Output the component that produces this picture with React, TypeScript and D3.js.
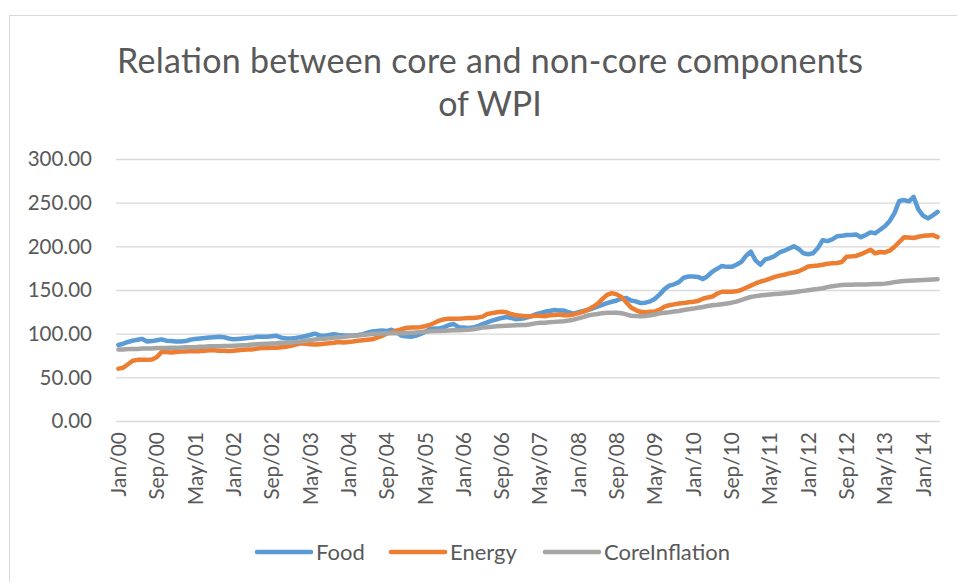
import { useEffect, useRef } from "react";
import * as d3 from "d3";

const MONTHS = ["Jan", "Feb", "Mar", "Apr", "May", "Jun", "Jul", "Aug", "Sep", "Oct", "Nov", "Dec"];
const START_YEAR = 2000;

// monthly index values, Jan/00 .. Apr/14
const FOOD = [
  87, 88.5, 90.5, 92, 93, 94, 91, 91.5, 92.5, 93.5, 92, 91.5,
  91, 91, 91.5, 93, 94, 94.5, 95, 95.5, 96, 96.5, 96, 94.5,
  93.5, 94, 94.5, 95, 95.5, 96.5, 96.5, 96.5, 97, 97.5, 95.5, 94.5,
  94.5, 95, 96, 97, 98.5, 100, 98, 97.5, 98.5, 99.5, 98.5, 98,
  98, 98, 98.5, 99.5, 101, 102.5, 103, 103.5, 103, 104.5, 102, 98,
  97, 96.5, 97.5, 99.5, 102, 105, 106, 106, 107.5, 110, 111, 107.5,
  107, 106.5, 107, 108.5, 111, 113, 115, 116.5, 118, 119, 118, 116.5,
  117, 118, 119.5, 122, 123.5, 125, 126, 127, 126.5, 126.5, 124.5, 123,
  124.5, 126, 127, 129, 131, 133, 135, 136.5, 138, 140, 141, 138,
  137, 135, 135.5, 137, 140, 145, 151, 155, 156.5, 159, 164, 165.5,
  165.5, 165, 162.5, 166, 171, 174.5, 177.5, 176.5, 176.5, 179, 182, 189,
  194, 184, 179, 185, 186.5, 189, 193, 195, 197.5, 200, 197, 192,
  191, 192, 198, 207, 206, 208, 211.5, 212, 213, 213, 213.5, 210.5,
  213, 216, 215, 219, 223, 229, 238, 252, 253, 251.5, 256.5, 242,
  235, 232, 235.5, 239.5,
];

const ENERGY = [
  60, 61, 65, 69, 70, 70, 70, 70.5, 73, 79, 79, 78.5,
  79, 79.5, 79.5, 80, 80, 80, 80.5, 81, 81, 80.5, 80.5, 80,
  80.5, 81, 81.5, 82, 82, 83, 83.5, 83.5, 84, 84, 84.5, 85,
  86, 87.5, 89, 88.5, 88, 87.5, 88, 88.5, 89, 89.5, 90.5, 90,
  90.5, 91, 92, 92.5, 93, 93.5, 95.5, 97.5, 100, 101.5, 103.5, 105,
  106.5, 107, 107, 107.5, 108.5, 110, 112.5, 115, 116.5, 117, 117, 117,
  117.5, 118, 118, 118.5, 119.5, 122.5, 123.5, 124.5, 125, 124.5, 122.5, 121,
  120.5, 120, 120, 120.5, 120.5, 120, 121, 121.5, 122, 121, 121, 122,
  123.5, 125, 127.5, 130.5, 134, 139.5, 144.5, 146.5, 145, 142, 136, 130,
  127, 125, 124.5, 125, 125.5, 127.5, 131, 132.5, 133.5, 134.5, 135, 136,
  136.5, 137.5, 140, 141.5, 142.5, 146, 148, 148, 148, 148.5, 150, 152.5,
  155, 157.5, 159.5, 161, 163, 165, 166.5, 167.5, 169, 170, 171.5, 174,
  177, 177.5, 178, 179, 180, 180.5, 181, 182, 188, 188.5, 189, 191,
  193.5, 196, 192, 193.5, 193, 195, 199.5, 205, 210.5, 210, 209.5, 211,
  212, 212.5, 213, 210.5,
];

const CORE = [
  82, 82, 82.5, 82.5, 82.5, 83, 83, 83, 83.5, 83.5, 83.5, 84,
  84, 84, 84.5, 84.5, 84.5, 85, 85, 85.5, 85.5, 85.5, 86, 86,
  86.3, 86.5, 86.8, 87, 87.5, 88, 88.3, 88.5, 88.8, 89, 89.5, 89.7,
  90, 90.5, 91, 91.8, 92.5, 93.3, 93.8, 94.3, 94.8, 95.2, 95.8, 96.3,
  97, 97.5, 98, 98.5, 99, 99.5, 100, 100.3, 100.5, 100.5, 100.5, 100.5,
  100.7, 101, 101.3, 101.8, 102.3, 102.8, 103, 103, 103.3, 103.5, 103.8, 104,
  104.2, 104.5, 105, 106, 107, 107.3, 107.8, 108.5, 108.8, 109, 109.3, 109.5,
  109.8, 110, 110.8, 111.8, 112.5, 112.6, 113, 113.5, 113.8, 114.3, 115, 116,
  117.5, 119, 120.8, 121.8, 122.5, 123.5, 124, 124, 124, 123.5, 122, 120.5,
  120.3, 120, 120.3, 121, 122, 123.3, 124, 124.5, 125.3, 126, 127, 128,
  128.7, 129.6, 130.5, 131.6, 132.5, 133, 133.7, 134.5, 135.5, 136.7, 138.5, 140.5,
  142, 143, 143.8, 144.3, 144.8, 145.3, 145.8, 146.3, 146.8, 147.5, 148.3, 149,
  149.7, 150.5, 151.2, 152, 153.3, 154.2, 155, 155.6, 155.9, 156, 156.2, 156.3,
  156.4, 156.6, 156.8, 157, 157.3, 158, 159, 159.7, 160.2, 160.6, 161, 161.3,
  161.5, 161.8, 162, 162.3,
];

const Y_TICKS = [0, 50, 100, 150, 200, 250, 300];
const LABEL_EVERY = 8;

const CATEGORIES = FOOD.map((_, i) => {
  const yy = String((START_YEAR + Math.floor(i / 12)) % 100).padStart(2, "0");
  return `${MONTHS[i % 12]}/${yy}`;
});

const SERIES = [
  { name: "Food", values: FOOD, color: "#5b9bd5" },
  { name: "Energy", values: ENERGY, color: "#ed7d31" },
  { name: "CoreInflation", values: CORE, color: "#a5a5a5" },
];

const FONT = "Lato, 'Open Sans', sans-serif";
const TEXT = "#595959";

export default function App() {
  const svgRef = useRef<SVGSVGElement | null>(null);

  useEffect(() => {
    const svgElement = svgRef.current;
    if (!svgElement) return;
    const width = 957;
    const height = 582;
    const plot = { left: 116, right: 940, top: 159, bottom: 421 };

    const x = d3.scalePoint<string>().domain(CATEGORIES).range([plot.left, plot.right]).padding(0.5);
    const y = d3.scaleLinear().domain([0, 300]).range([plot.bottom, plot.top]);

    const svg = d3.select(svgElement);
    svg.selectAll("*").remove();
    svg.attr("viewBox", `0 0 ${width} ${height}`);

    svg.append("rect").attr("width", width).attr("height", height).attr("fill", "#fff");
    svg
      .append("rect")
      .attr("x", 9.5)
      .attr("y", 15.5)
      .attr("width", width + 20)
      .attr("height", height + 20)
      .attr("fill", "none")
      .attr("stroke", "#d9d9d9");

    const title = svg
      .append("text")
      .attr("text-anchor", "middle")
      .attr("font-family", FONT)
      .attr("font-size", 34)
      .attr("fill", TEXT);
    title
      .append("tspan")
      .attr("x", 490)
      .attr("y", 73)
      .attr("textLength", 746)
      .text("Relation between core and non-core components");
    title.append("tspan").attr("x", 490).attr("y", 116).text("of WPI");

    // gridlines
    svg
      .append("g")
      .selectAll("line")
      .data(Y_TICKS)
      .join("line")
      .attr("x1", plot.left)
      .attr("x2", plot.right)
      .attr("y1", (d) => y(d) + 0.5)
      .attr("y2", (d) => y(d) + 0.5)
      .attr("stroke", "#d9d9d9")
      .attr("stroke-width", 1.3);

    svg
      .append("g")
      .selectAll("text")
      .data(Y_TICKS)
      .join("text")
      .attr("x", 92)
      .attr("y", (d) => y(d))
      .attr("dy", "0.35em")
      .attr("text-anchor", "end")
      .attr("font-family", FONT)
      .attr("font-size", 20.5)
      .attr("fill", TEXT)
      .text((d) => d.toFixed(2));

    svg
      .append("g")
      .selectAll("text")
      .data(CATEGORIES.filter((_, i) => i % LABEL_EVERY === 0))
      .join("text")
      .attr("transform", (d) => `translate(${(x(d) ?? 0) + 7.5}, 432) rotate(-90)`)
      .attr("text-anchor", "end")
      .attr("font-family", FONT)
      .attr("font-size", 21)
      .attr("fill", TEXT)
      .text((d) => d);

    const line = d3
      .line<number>()
      .x((_, i) => x(CATEGORIES[i]) ?? 0)
      .y((d) => y(d));

    svg
      .append("g")
      .selectAll("path")
      .data(SERIES)
      .join("path")
      .attr("d", (s) => line(s.values))
      .attr("fill", "none")
      .attr("stroke", (s) => s.color)
      .attr("stroke-width", 4.5)
      .attr("stroke-linejoin", "round")
      .attr("stroke-linecap", "round");

    const legendX = [257, 391, 545];
    const legend = svg
      .append("g")
      .selectAll("g")
      .data(SERIES)
      .join("g")
      .attr("transform", (_, i) => `translate(${legendX[i]}, 552)`);
    legend
      .append("line")
      .attr("x1", 0)
      .attr("x2", 54)
      .attr("stroke", (s) => s.color)
      .attr("stroke-width", 4.5)
      .attr("stroke-linecap", "round");
    legend
      .append("text")
      .attr("x", 59)
      .attr("dy", "0.35em")
      .attr("font-family", FONT)
      .attr("font-size", 22)
      .attr("fill", TEXT)
      .text((s) => s.name);
  }, []);

  return (
    <svg
      ref={svgRef}
      width={957}
      height={582}
      style={{ position: "fixed", left: 0, top: 0, display: "block" }}
    />
  );
}
